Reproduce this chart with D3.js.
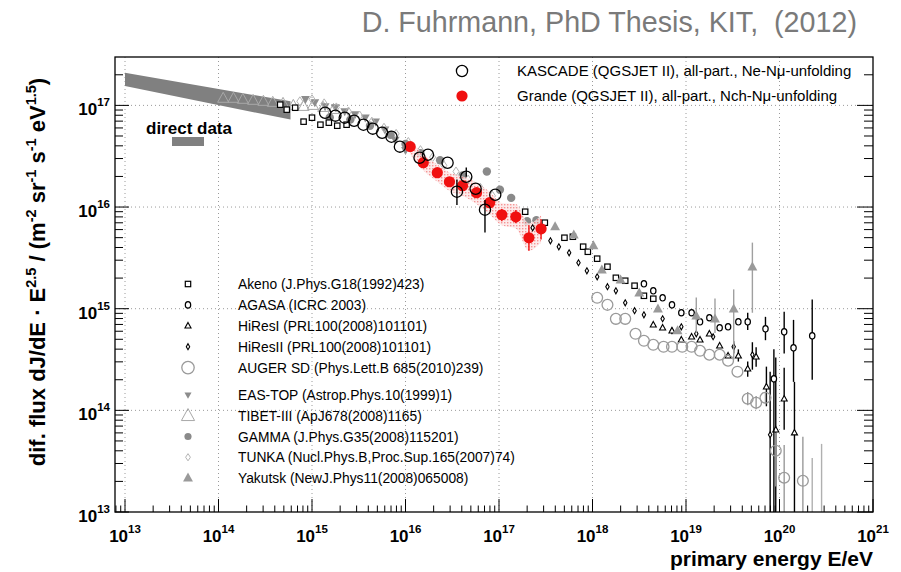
<!DOCTYPE html>
<html><head><meta charset="utf-8">
<script src="https://cdn.jsdelivr.net/npm/d3@7"></script>
<style>
body{margin:0;background:#fff}
text{font-family:"Liberation Sans",Arial,Helvetica,sans-serif}
</style>
</head><body>
<svg id="c" width="901" height="572"></svg>
<script>
// ---------------- DATA (log10 E/eV , log10 flux*E^2.5) ----------------
const xDecades = [13,14,15,16,17,18,19,20,21];
const yDecades = [13,14,15,16,17];

const directE  = [13.0, 14.77];
const directHi = [17.32, 17.04];
const directLo = [17.19, 16.86];

const tibetE = [14.05,14.16,14.26,14.37,14.48,14.58,14.69,14.80,14.91,15.01,15.12,15.23];
const tibetF = [17.07,17.07,17.06,17.05,17.04,17.03,17.02,17.00,16.99,17.00,16.98,16.96];

const eastopE = [14.93,15.03,15.14,15.25,15.35,15.46,15.57,15.68,15.78,15.89,16.00];
const eastopF = [17.06,17.03,16.99,16.98,16.94,16.91,16.88,16.84,16.76,16.66,16.56];

const tunkaE = [14.87,15.00,15.13,15.26,15.39,15.51,15.64,15.77,15.90,16.03,16.16,16.29,16.41,16.54,16.67,16.80,16.93];
const tunkaF = [17.04,17.06,17.02,16.98,16.94,16.90,16.84,16.78,16.72,16.64,16.56,16.49,16.41,16.35,16.27,16.19,16.11];

const gammaE = [15.19,15.41,15.62,15.84,16.00,16.16,16.37,16.61,16.87,17.01,17.13,17.30,17.40];
const gammaF = [16.88,16.86,16.80,16.71,16.62,16.53,16.46,16.31,16.35,16.17,16.09,15.86,15.87];

const grandeE  = [16.05,16.19,16.34,16.47,16.61,16.76,16.90,17.03,17.18,17.32,17.45];
const grandeF  = [16.594,16.436,16.338,16.249,16.210,16.141,16.043,15.924,15.904,15.698,15.786];
const grandeBandHi = [16.66,16.52,16.42,16.34,16.30,16.24,16.15,16.04,16.03,15.84,15.92];
const grandeBandLo = [16.52,16.36,16.25,16.16,16.11,16.03,15.93,15.82,15.79,15.57,15.65];
const grandeErrHi = [null,null,null,null,null,null,16.09,15.98,15.97,15.82,15.88];
const grandeErrLo = [null,null,null,null,null,null,15.99,15.86,15.84,15.57,15.68];

const kascadeE = [15.14,15.25,15.35,15.45,15.55,15.65,15.75,15.85,15.94,16.15,16.24,16.45,16.55,16.65,16.75,16.85,16.96];
const kascadeF = [16.928,16.899,16.879,16.849,16.810,16.771,16.731,16.692,16.594,16.485,16.515,16.436,16.151,16.298,16.180,15.974,16.121];
const kascadeErrHi = [null,null,null,null,null,null,null,null,null,null,null,null,16.27,16.39,null,16.07,null];
const kascadeErrLo = [null,null,null,null,null,null,null,null,null,null,null,null,16.02,null,null,15.75,null];

const akenoE = [14.66,14.73,14.82,14.91,15.00,15.09,15.18,15.27,15.37,
                17.28,17.49,17.70,17.79,17.90,17.95,18.05,18.16,18.25,18.35,18.45,18.55,18.65];
const akenoF = [17.007,16.958,16.977,16.840,16.879,16.810,16.830,16.800,16.810,
                15.954,15.846,15.698,15.708,15.610,15.560,15.492,15.413,15.304,15.275,15.226,15.127,15.098];

const agasaE = [18.55,18.65,18.75,18.85,18.95,19.06,19.15,19.25,19.36,19.45,19.56,19.66,19.85,19.94,20.05,20.15,20.35];
const agasaF = [15.245,15.176,15.107,15.038,14.960,14.960,14.871,14.911,14.812,14.822,14.871,14.871,14.802,14.310,14.772,14.615,14.733];
const agasaErrHi = [null,null,null,null,null,null,null,null,null,null,null,14.96,14.92,14.60,14.97,14.89,15.09];
const agasaErrLo = [null,null,null,null,null,null,null,null,null,null,null,14.79,14.69,12.80,14.56,14.28,14.30];

const hires1E = [18.65,18.75,18.85,18.95,19.06,19.15,19.25,19.36,19.45,19.56,19.66,19.75,19.86,19.96,20.05,20.16];
const hires1F = [14.842,14.812,14.783,14.694,14.724,14.694,14.753,14.635,14.537,14.537,14.409,14.527,14.232,13.809,14.113,13.780];
const hires1ErrHi = [null,null,null,null,null,null,null,null,null,14.60,14.48,14.62,14.43,14.52,14.42,14.28];
const hires1ErrLo = [null,null,null,null,null,null,null,null,null,14.48,14.33,14.43,14.04,12.80,13.81,12.80];

const hires2E = [17.36,17.55,17.64,17.75,17.85,17.94,18.05,18.16,18.25,18.35,18.45,18.55,18.75,18.85,18.95,19.11,19.29,19.51,19.71,19.90];
const hires2F = [15.796,15.668,15.609,15.550,15.452,15.373,15.314,15.216,15.176,15.058,14.980,14.940,14.901,14.783,14.822,14.753,14.724,14.625,14.547,13.760];
const hires2ErrHi = [null,null,null,null,null,null,null,null,null,null,null,null,null,null,null,null,null,14.68,14.67,14.38];
const hires2ErrLo = [null,null,null,null,null,null,null,null,null,null,null,null,null,null,null,null,null,14.56,14.40,12.80];

const augerE = [18.05,18.16,18.25,18.35,18.46,18.55,18.65,18.76,18.85,18.96,19.06,19.15,19.25,19.36,19.45,19.55,19.66,19.75,19.85,19.96,20.05,20.25];
const augerF = [15.107,15.038,14.900,14.900,14.753,14.684,14.645,14.625,14.625,14.625,14.625,14.586,14.547,14.547,14.488,14.380,14.114,14.075,14.124,13.603,13.337,13.307];
const augerErrHi = [null,null,null,null,null,null,null,null,null,null,null,null,null,null,null,null,14.18,14.14,14.18,13.78,13.66,13.74];
const augerErrLo = [null,null,null,null,null,null,null,null,null,null,null,null,null,null,null,null,14.05,14.01,14.06,13.25,12.80,12.80];
const augerLimE   = [20.35, 20.45];
const augerLimTop = [13.53, 13.67];

const yakutskE = [17.60,17.80,18.01,18.10,18.30,18.50,18.70,18.91,19.11,19.31,19.51,19.71];
const yakutskF = [15.806,15.727,15.619,15.382,15.283,15.156,14.999,14.783,14.930,14.900,14.999,15.412];
const yakutskErrHi = [null,null,null,null,null,null,null,null,15.11,15.10,15.19,15.65];
const yakutskErrLo = [null,null,null,null,null,null,null,null,14.76,14.76,14.50,14.96];

const legendTop = ["KASCADE (QGSJET II), all-part., Ne-N\u03bc-unfolding",
                   "Grande (QGSJET II), all-part., Nch-N\u03bc-unfolding"];
const legendLabels = ["Akeno (J.Phys.G18(1992)423)","AGASA (ICRC 2003)","HiResI (PRL100(2008)101101)",
  "HiResII (PRL100(2008)101101)","AUGER SD (Phys.Lett.B 685(2010)239)",
  "EAS-TOP (Astrop.Phys.10(1999)1)","TIBET-III (ApJ678(2008)1165)","GAMMA (J.Phys.G35(2008)115201)",
  "TUNKA (Nucl.Phys.B,Proc.Sup.165(2007)74)","Yakutsk (NewJ.Phys11(2008)065008)"];
const legendTypes = ["akeno","agasa","hires1","hires2","auger","eastop","tibet","gamma","tunka","yakutsk"];

// ---------------- LAYOUT ----------------
const L=115, R=873, T=57, B=512;
const P = v => Math.pow(10, v);
const x = d3.scaleLog().domain([P(12.893), 1e21]).range([L, R]);
const y = d3.scaleLog().domain([1e13, P(17.476)]).range([B, T]);
const svg = d3.select("#c");

// title
svg.append("text").attr("x",857).attr("y",32).attr("text-anchor","end")
  .attr("font-size",28.7).attr("fill","#7a7a7a").style("white-space","pre")
  .text("D. Fuhrmann, PhD Thesis, KIT,  (2012)");

svg.append("defs").append("clipPath").attr("id","clip")
  .append("rect").attr("x",L).attr("y",T).attr("width",R-L).attr("height",B-T);

// grid
const grid = svg.append("g").attr("stroke","#9a9a9a").attr("stroke-width",1).attr("stroke-dasharray","1,3");
xDecades.filter(d=>d<21).forEach(d=>{
  grid.append("line").attr("x1",x(P(d))).attr("x2",x(P(d))).attr("y1",T).attr("y2",B);
});
yDecades.filter(d=>d>13).forEach(d=>{
  grid.append("line").attr("x1",L).attr("x2",R).attr("y1",y(P(d))).attr("y2",y(P(d)));
});

// ticks
const tk = svg.append("g").attr("stroke","#000").attr("stroke-width",1);
const xMinor=[], yMinor=[];
xDecades.forEach(d=>{ for(let k=2;k<=9;k++){ const v=k*P(d); if(v<1e21) xMinor.push(v);} });
for(let k=8;k<=9;k++) xMinor.push(k*1e12);
yDecades.forEach(d=>{ for(let k=2;k<=9;k++){ const v=k*P(d); if(v<=P(17.476)) yMinor.push(v);} });
xDecades.forEach(d=>{ const px=x(P(d)); tk.append("line").attr("x1",px).attr("x2",px).attr("y1",B).attr("y2",B-13); });
xMinor.forEach(v=>{ const px=x(v); if(px>=L) tk.append("line").attr("x1",px).attr("x2",px).attr("y1",B).attr("y2",B-6.5); });
yDecades.forEach(d=>{ const py=y(P(d));
  tk.append("line").attr("x1",L).attr("x2",L+14).attr("y1",py).attr("y2",py);
  tk.append("line").attr("x1",R).attr("x2",R-16).attr("y1",py).attr("y2",py); });
yMinor.forEach(v=>{ const py=y(v);
  tk.append("line").attr("x1",L).attr("x2",L+8).attr("y1",py).attr("y2",py);
  tk.append("line").attr("x1",R).attr("x2",R-9).attr("y1",py).attr("y2",py); });

// tick labels
xDecades.forEach(d=>{
  const t = svg.append("text").attr("x",x(P(d))).attr("y",542).attr("text-anchor","middle")
    .attr("font-weight","bold").attr("font-size",17);
  t.append("tspan").text("10");
  t.append("tspan").attr("font-size",11.5).attr("dy",-9).text(d);
});
yDecades.forEach(d=>{
  const t = svg.append("text").attr("x",110).attr("y",y(P(d))+10).attr("text-anchor","end")
    .attr("font-weight","bold").attr("font-size",17);
  t.append("tspan").text("10");
  t.append("tspan").attr("font-size",11.5).attr("dy",-9).text(d);
});

// axis titles
svg.append("text").attr("x",873).attr("y",566).attr("text-anchor","end")
  .attr("font-weight","bold").attr("font-size",21).text("primary energy E/eV");
const yt = svg.append("text").attr("transform","translate(45,272) rotate(-90)")
  .attr("text-anchor","middle").attr("font-weight","bold").attr("font-size",22);
[["dif. flux dJ/dE \u00b7 E",0],["2.5",1],[" / (m",0],["-2",1],[" sr",0],["-1",1],[" s",0],["-1",1],[" eV",0],["1.5",1],[")",0]]
  .forEach((p,i,arr)=>{
    const prevSup = i>0 && arr[i-1][1];
    const ts = yt.append("tspan").text(p[0]);
    if(p[1]){ ts.attr("font-size",14.5).attr("dy",-9); }
    else if(prevSup){ ts.attr("dy",9); }
  });

// ---------------- MARKERS ----------------
function sym(g, type, cx, cy, s){
  s = s || 1;
  const tri = (h, up) => { const w=h*1.1; return up
      ? `M${cx},${cy-h*0.6}L${cx+w/2},${cy+h*0.4}L${cx-w/2},${cy+h*0.4}Z`
      : `M${cx},${cy+h*0.6}L${cx+w/2},${cy-h*0.4}L${cx-w/2},${cy-h*0.4}Z`; };
  const dia = (w,h) => `M${cx},${cy-h/2}L${cx+w/2},${cy}L${cx},${cy+h/2}L${cx-w/2},${cy}Z`;
  switch(type){
    case "kascade": g.append("circle").attr("cx",cx).attr("cy",cy).attr("r",5.6*s).attr("fill","none").attr("stroke","#000").attr("stroke-width",1.3); break;
    case "grande": g.append("circle").attr("cx",cx).attr("cy",cy).attr("r",5.6*s).attr("fill","#f01010"); break;
    case "akeno": g.append("rect").attr("x",cx-2.7*s).attr("y",cy-2.7*s).attr("width",5.4*s).attr("height",5.4*s).attr("fill","#fff").attr("stroke","#000").attr("stroke-width",1.2); break;
    case "agasa": g.append("ellipse").attr("cx",cx).attr("cy",cy).attr("rx",2.7*s).attr("ry",3.2*s).attr("fill","#fff").attr("stroke","#000").attr("stroke-width",1.2); break;
    case "hires1": g.append("path").attr("d",tri(5.5*s,true)).attr("fill","#fff").attr("stroke","#000").attr("stroke-width",1.1); break;
    case "hires2": g.append("path").attr("d",dia(3.4*s,6*s)).attr("fill","#fff").attr("stroke","#000").attr("stroke-width",1.1); break;
    case "auger": g.append("circle").attr("cx",cx).attr("cy",cy).attr("r",5.4*s).attr("fill","none").attr("stroke","#9a9a9a").attr("stroke-width",1.3); break;
    case "eastop": g.append("path").attr("d",tri(8*s,false)).attr("fill","#8c8c8c"); break;
    case "tibet": g.append("path").attr("d",tri(10*s,true)).attr("fill","none").attr("stroke","#a8a8a8").attr("stroke-width",1); break;
    case "gamma": g.append("circle").attr("cx",cx).attr("cy",cy).attr("r",4.2*s).attr("fill","#8a8a8a"); break;
    case "tunka": g.append("path").attr("d",dia(6*s,9*s)).attr("fill","none").attr("stroke","#b4b4b4").attr("stroke-width",1); break;
    case "yakutsk": g.append("path").attr("d",tri(9*s,true)).attr("fill","#9a9a9a"); break;
  }
}

const plot = svg.append("g").attr("clip-path","url(#clip)");

// direct data band
plot.append("path").attr("fill","#808080")
  .attr("d", d3.area().x((d,i)=>x(P(directE[i]))).y0((d,i)=>y(P(directLo[i]))).y1((d,i)=>y(P(directHi[i])))(directE));

function series(E, F, type, color, errHi, errLo){
  const g = plot.append("g");
  if(errHi){
    E.forEach((e,i)=>{
      if(errHi[i]!=null) g.append("line").attr("x1",x(P(e))).attr("x2",x(P(e)))
        .attr("y1",y(P(errHi[i]))).attr("y2",y(P(errLo[i]!=null?errLo[i]:F[i])))
        .attr("stroke",color).attr("stroke-width",1.4);
    });
  }
  E.forEach((e,i)=> sym(g, type, x(P(e)), y(P(F[i]))));
}

series(tibetE, tibetF, "tibet", "#a8a8a8");
series(eastopE, eastopF, "eastop", "#8c8c8c");
series(tunkaE, tunkaF, "tunka", "#b4b4b4");
series(gammaE, gammaF, "gamma", "#8a8a8a");

// grande systematic band (dotted pink hatch)
const pat = svg.select("defs").append("pattern").attr("id","pink").attr("patternUnits","userSpaceOnUse")
  .attr("width",3).attr("height",3);
pat.append("rect").attr("width",3).attr("height",3).attr("fill","#fde6e6");
pat.append("rect").attr("width",1.4).attr("height",1.4).attr("fill","#f37a7a");
plot.append("path").attr("fill","url(#pink)").attr("opacity",0.8)
  .attr("d", d3.area().x((d,i)=>x(P(grandeE[i]))).y0((d,i)=>y(P(grandeBandLo[i]))).y1((d,i)=>y(P(grandeBandHi[i]))).curve(d3.curveMonotoneX)(grandeE));

series(akenoE, akenoF, "akeno", "#000");
series(grandeE, grandeF, "grande", "#f01010", grandeErrHi, grandeErrLo);
series(kascadeE, kascadeF, "kascade", "#000", kascadeErrHi, kascadeErrLo);
series(hires2E, hires2F, "hires2", "#000", hires2ErrHi, hires2ErrLo);
series(hires1E, hires1F, "hires1", "#000", hires1ErrHi, hires1ErrLo);
series(agasaE, agasaF, "agasa", "#000", agasaErrHi, agasaErrLo);
augerLimE.forEach((e,i)=> plot.append("line").attr("x1",x(P(e))).attr("x2",x(P(e)))
  .attr("y1",y(P(augerLimTop[i]))).attr("y2",B).attr("stroke","#b0b0b0").attr("stroke-width",1.4));
series(augerE, augerF, "auger", "#9a9a9a", augerErrHi, augerErrLo);
series(yakutskE, yakutskF, "yakutsk", "#a0a0a0", yakutskErrHi, yakutskErrLo);

// frame
svg.append("rect").attr("x",L).attr("y",T).attr("width",R-L).attr("height",B-T)
  .attr("fill","none").attr("stroke","#000").attr("stroke-width",1.3);

// direct data label
svg.append("text").attr("x",146).attr("y",134).attr("font-weight","bold").attr("font-size",17).text("direct data");
svg.append("rect").attr("x",172).attr("y",137).attr("width",32).attr("height",9).attr("fill","#808080");

// top legend
const lg = svg.append("g");
sym(lg, "kascade", 462, 71);
sym(lg, "grande", 462, 96);
legendTop.forEach((t,i)=> lg.append("text").attr("x",517).attr("y",76+i*25).attr("font-size",15).text(t));

// lower legend
legendLabels.forEach((t,i)=>{
  const cy = i<5 ? 284 + i*20.9 : 395 + (i-5)*20.75;
  const sc = {akeno:1,agasa:1,hires1:1,hires2:1,auger:1.15,eastop:0.8,tibet:1.2,gamma:0.85,tunka:0.8,yakutsk:1}[legendTypes[i]];
  sym(lg, legendTypes[i], 188, cy, sc);
  lg.append("text").attr("x",238).attr("y",cy+5).attr("font-size",13.8).text(t);
});
</script>
</body></html>
